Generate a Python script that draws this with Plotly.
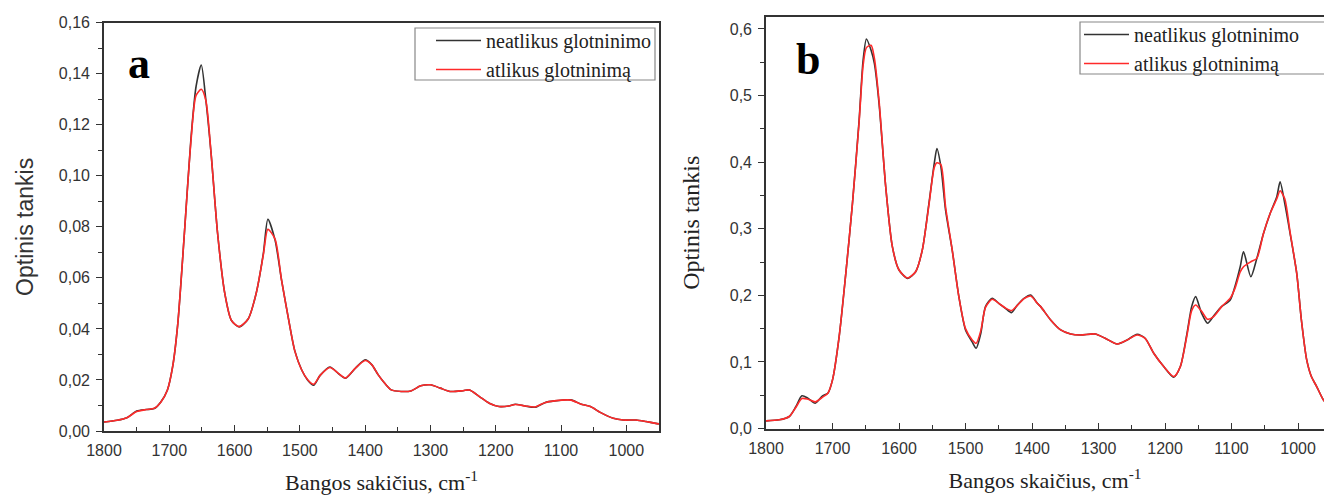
import plotly.graph_objects as go

# ---------- Panel a data ----------
wn_a = [1800, 1780, 1765, 1750, 1735, 1723, 1713, 1703, 1695, 1687, 1677, 1667, 1659, 1651,
        1644, 1636, 1626, 1615, 1605, 1593, 1579, 1567, 1556, 1549, 1538, 1528, 1518, 1508,
        1497, 1488, 1479, 1469, 1454, 1441, 1430, 1415, 1400, 1390, 1380, 1370, 1360, 1345,
        1330, 1315, 1300, 1285, 1270, 1250, 1240, 1225, 1210, 1195, 1180, 1170, 1155, 1140,
        1125, 1110, 1085, 1070, 1055, 1040, 1020, 1005, 985, 970, 955, 950]
raw_a = [0.0035, 0.0042, 0.0052, 0.0078, 0.0084, 0.0088, 0.0114, 0.016, 0.025, 0.042, 0.077,
         0.114, 0.135, 0.1434, 0.1297, 0.1088, 0.0774, 0.0539, 0.0434, 0.0408, 0.044, 0.0539,
         0.0695, 0.0830, 0.0748, 0.059, 0.0447, 0.0316, 0.0238, 0.0199, 0.0179, 0.0218, 0.0251,
         0.0225, 0.0207, 0.0246, 0.0279, 0.026, 0.022, 0.0187, 0.0161, 0.0155, 0.0157, 0.0177,
         0.0181, 0.0168, 0.0155, 0.0158, 0.0161, 0.0135, 0.0109, 0.0096, 0.0098, 0.0105, 0.0098,
         0.0093, 0.0111, 0.0118, 0.0122, 0.0106, 0.0096, 0.0073, 0.005, 0.0043, 0.0043, 0.0037,
         0.003, 0.0028]
smooth_a = [0.0035, 0.0042, 0.0052, 0.0076, 0.0084, 0.0089, 0.0113, 0.016, 0.025, 0.042, 0.077,
            0.113, 0.1315, 0.1339, 0.1295, 0.1088, 0.0774, 0.0539, 0.0434, 0.0409, 0.044, 0.0539,
            0.0690, 0.0790, 0.0752, 0.059, 0.0447, 0.0316, 0.0238, 0.0201, 0.0183, 0.0218, 0.0249,
            0.0226, 0.0208, 0.0246, 0.0276, 0.026, 0.022, 0.0187, 0.0161, 0.0155, 0.0157, 0.0177,
            0.0181, 0.0168, 0.0155, 0.0158, 0.0161, 0.0135, 0.0109, 0.0096, 0.0098, 0.0104, 0.0098,
            0.0094, 0.0111, 0.0118, 0.0121, 0.0106, 0.0096, 0.0073, 0.005, 0.0043, 0.0043, 0.0037,
            0.003, 0.0028]

# ---------- Panel b data ----------
wn_b = [1800, 1780, 1765, 1755, 1746, 1737, 1726, 1715, 1707, 1700, 1690, 1680, 1670, 1660,
        1654, 1649, 1642, 1637, 1630, 1620, 1610, 1600, 1587, 1575, 1565, 1555, 1547, 1543,
        1537, 1530, 1520, 1510, 1500, 1490, 1484, 1477, 1470, 1460, 1450, 1440, 1431, 1422,
        1412, 1402, 1392, 1387, 1372, 1357, 1342, 1327, 1305, 1290, 1272, 1257, 1242, 1230,
        1217, 1202, 1187, 1177, 1167, 1160, 1154, 1145, 1136, 1127, 1115, 1102, 1095, 1087,
        1082, 1071, 1062, 1052, 1042, 1032, 1027, 1020, 1012, 1002, 995, 987, 980, 972, 962, 955]
raw_b = [0.0115, 0.013, 0.018, 0.033, 0.049, 0.0455, 0.038, 0.049, 0.053, 0.073, 0.138, 0.233,
         0.338, 0.463, 0.553, 0.585, 0.568, 0.548, 0.488, 0.363, 0.273, 0.238, 0.2255, 0.2355,
         0.268, 0.338, 0.398, 0.4205, 0.393, 0.328, 0.268, 0.198, 0.148, 0.13, 0.1205, 0.143,
         0.183, 0.1955, 0.188, 0.1805, 0.174, 0.1855, 0.1955, 0.2005, 0.188, 0.183, 0.163, 0.148,
         0.142, 0.1405, 0.142, 0.1355, 0.127, 0.133, 0.1415, 0.1355, 0.113, 0.093, 0.077, 0.093,
         0.143, 0.183, 0.198, 0.173, 0.158, 0.169, 0.183, 0.193, 0.213, 0.243, 0.2655, 0.228,
         0.2555, 0.293, 0.323, 0.348, 0.3705, 0.338, 0.293, 0.233, 0.163, 0.103, 0.078, 0.063,
         0.043, 0.035]
smooth_b = [0.0115, 0.013, 0.018, 0.032, 0.045, 0.044, 0.040, 0.047, 0.053, 0.073, 0.138, 0.233,
            0.338, 0.460, 0.545, 0.572, 0.5755, 0.556, 0.492, 0.363, 0.273, 0.238, 0.226, 0.2355,
            0.268, 0.336, 0.392, 0.399, 0.396, 0.333, 0.268, 0.198, 0.150, 0.133, 0.128, 0.147,
            0.182, 0.194, 0.188, 0.181, 0.177, 0.185, 0.195, 0.199, 0.188, 0.183, 0.163, 0.148,
            0.142, 0.1405, 0.142, 0.1355, 0.127, 0.133, 0.1405, 0.1355, 0.113, 0.093, 0.078, 0.093,
            0.140, 0.177, 0.1855, 0.176, 0.164, 0.168, 0.183, 0.1955, 0.210, 0.235, 0.243, 0.2505,
            0.2555, 0.293, 0.323, 0.345, 0.357, 0.345, 0.295, 0.233, 0.163, 0.103, 0.078, 0.063,
            0.043, 0.035]

series_names = ["neatlikus glotninimo", "atlikus glotninimą"]
series_colors = ["#333333", "#ff2a2a"]

x_title_a = "Bangos sakičius, cm<sup>-1</sup>"
x_title_b = "Bangos skaičius, cm<sup>-1</sup>"
y_title = "Optinis tankis"
panel_labels = ["a", "b"]

fig = go.Figure()

for ys, name, col in zip([raw_a, smooth_a], series_names, series_colors):
    fig.add_trace(go.Scatter(x=wn_a, y=ys, name=name, mode="lines",
                             line=dict(color=col, width=1.6, shape="spline", smoothing=0.7),
                             xaxis="x", yaxis="y", legend="legend"))
for ys, name, col in zip([raw_b, smooth_b], series_names, series_colors):
    fig.add_trace(go.Scatter(x=wn_b, y=ys, name=name, mode="lines",
                             line=dict(color=col, width=1.6, shape="spline", smoothing=0.7),
                             xaxis="x2", yaxis="y2", legend="legend2"))

W, H = 1324, 496
axcol = "#333333"
sans = "Liberation Sans, Arial, sans-serif"
serif = "Liberation Serif, Times New Roman, serif"
tickfont = dict(family=sans, size=16, color="#333333")

def xaxis(domain, rng, title, anchor, mirror):
    return dict(domain=domain, range=rng, anchor=anchor, showgrid=False, zeroline=False,
                showline=True, linecolor=axcol, linewidth=1.6, mirror=mirror,
                ticks="inside", ticklen=6, tickwidth=1.3, tickcolor=axcol,
                dtick=100, tick0=1000, tickfont=tickfont, ticklabelstandoff=4,
                minor=dict(dtick=50, tick0=1000, ticks="inside", ticklen=4, tickcolor=axcol, tickwidth=1.2),
                title=dict(text=title, font=dict(family=serif, size=22, color="#222222"), standoff=17),
                automargin=False)

def yaxis(domain, rng, dt, fmt, anchor, mirror, tfont, standoff):
    return dict(domain=domain, range=rng, anchor=anchor, showgrid=False, zeroline=False,
                showline=True, linecolor=axcol, linewidth=1.6, mirror=mirror,
                ticks="outside", ticklen=6, tickwidth=1.3, tickcolor=axcol,
                dtick=dt, tick0=0, tickformat=fmt, tickfont=tickfont, ticklabelstandoff=3,
                minor=dict(dtick=dt / 2, tick0=0, ticks="outside", ticklen=4, tickcolor=axcol, tickwidth=1.2),
                title=dict(text=y_title, font=tfont, standoff=standoff),
                automargin=False)

legend_common = dict(bgcolor="rgba(0,0,0,0)", borderwidth=0,
                     font=dict(family=serif, size=20, color="#222222"),
                     tracegroupgap=0, itemwidth=45)

fig.update_layout(
    width=W, height=H, margin=dict(l=0, r=0, t=0, b=0),
    paper_bgcolor="white", plot_bgcolor="white",
    separators=",.",
    xaxis=xaxis([104 / W, 659 / W], [1800, 950], x_title_a, "y", True),
    yaxis=yaxis([(H - 431) / H, (H - 22.7) / H], [0, 0.16], 0.02, ".2f", "x", True,
                dict(family=sans, size=23, color="#333333"), 19),
    xaxis2=xaxis([766 / W, 1.0], [1800, 961], x_title_b, "y2", True),
    yaxis2=yaxis([(H - 428.5) / H, (H - 17) / H], [0, 0.618], 0.1, ".1f", "x2", False,
                 dict(family=serif, size=24, color="#222222"), 23),
    legend=dict(x=656 / W, xanchor="right", y=(H - 21) / H, yanchor="top", **legend_common),
    legend2=dict(x=1079 / W, xanchor="left", y=(H - 15) / H, yanchor="top", **legend_common),
    showlegend=True,
)

# legend frames
fig.add_shape(type="rect", xref="paper", yref="paper",
              x0=415 / W, x1=655 / W, y0=(H - 80) / H, y1=(H - 28) / H,
              line=dict(color="#888888", width=1.2), fillcolor="rgba(0,0,0,0)")
fig.add_shape(type="rect", xref="paper", yref="paper",
              x0=1080 / W, x1=1340 / W, y0=(H - 74) / H, y1=(H - 22) / H,
              line=dict(color="#888888", width=1.2), fillcolor="rgba(0,0,0,0)")

fig.add_annotation(text="<b>" + panel_labels[0] + "</b>", xref="paper", yref="paper",
                   x=126 / W, xanchor="left", y=(H - 37) / H, showarrow=False,
                   font=dict(family=serif, size=44, color="black"))
fig.add_annotation(text="<b>" + panel_labels[1] + "</b>", xref="paper", yref="paper",
                   x=794 / W, xanchor="left", y=(H - 33) / H, showarrow=False,
                   font=dict(family=serif, size=44, color="black"))

fig.write_html("out.html")
